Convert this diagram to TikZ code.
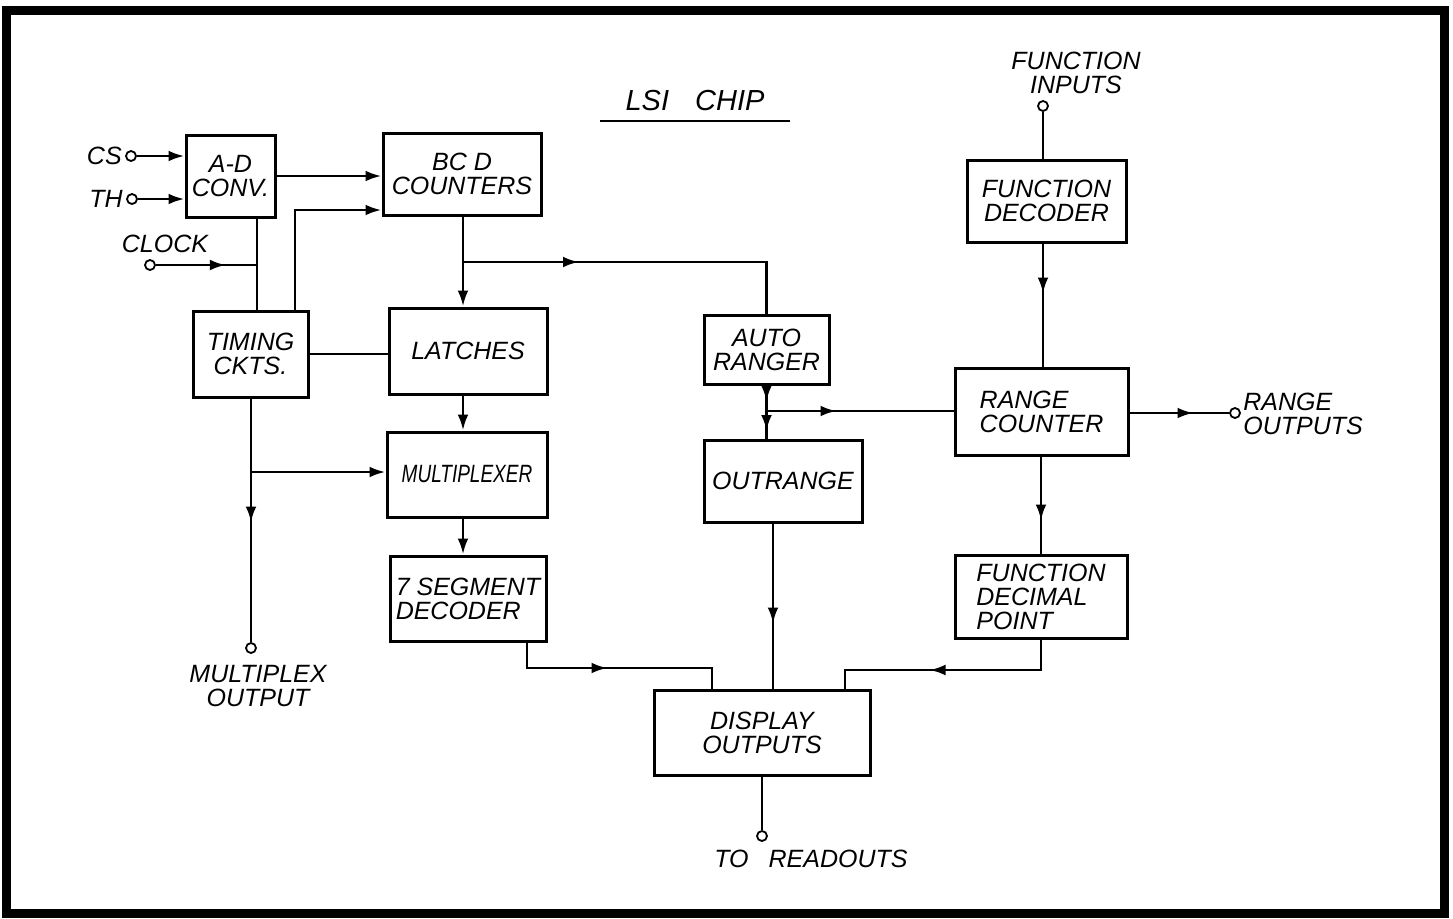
\documentclass[tikz,border=0pt]{standalone}
\usepackage{fontspec}
\setmainfont{Liberation Sans}
\usepackage{graphicx}
\usepackage{tikz}
\usetikzlibrary{arrows.meta,positioning,calc,decorations.markings}

\begin{document}
\begin{tikzpicture}[x=0.5pt, y=-0.5pt, line width=1.4pt,
    >={Latex[length=8pt, width=5.4pt]},
    blk/.style={draw, line width=1.5pt, inner sep=2pt, align=center,
      font=\itshape\fontsize{12.5}{12}\selectfont},
    lbl/.style={inner sep=1pt, align=center, font=\itshape\fontsize{12.5}{12}\selectfont},
    port/.style={draw, circle, line width=0.9pt, inner sep=0pt, minimum size=5pt},
    midtip/.style={postaction={decorate},
      decoration={markings, mark=at position #1 with {\arrow{>}}}}]
  \useasboundingbox (0,0) rectangle (1453,918);
  \draw[line width=4.5pt] (6,10) rectangle (1444,913);

  \node[lbl, font=\itshape\fontsize{14.5}{16}\selectfont, inner xsep=12pt, inner ysep=4.5pt, anchor=south] (title) at (695,121) {LSI\hspace{0.9em}CHIP};
  \draw (title.south west) -- (title.south east);

  \node[blk, minimum width=44.5pt, minimum height=41pt] (adc) at (230.5,176) {A-D\\CONV.};
  \node[blk, minimum width=79pt, minimum height=41pt] (bcd) at (462,174) {BC D\\COUNTERS};
  \node[blk, minimum width=57.5pt, minimum height=43pt] (tim) at (250.5,354) {TIMING\\CKTS.};
  \node[blk, minimum width=79pt, minimum height=43pt] (lat) at (468,351) {LATCHES};
  \node[blk, minimum width=80pt, minimum height=42.5pt] (mux) at (467,474.5) {\scalebox{0.76}[1]{MULTIPLEXER}};
  \node[blk, minimum width=78pt, minimum height=42.5pt, align=left] (seg) at (468,598.5) {7 SEGMENT\\DECODER};
  \node[blk, minimum width=62.5pt, minimum height=34.5pt] (auto) at (766.5,349.5) {AUTO\\RANGER};
  \node[blk, minimum width=79pt, minimum height=41pt] (outr) at (783,481) {OUTRANGE};
  \node[blk, minimum width=108pt, minimum height=42.5pt] (disp) at (762,732.5) {DISPLAY\\OUTPUTS};
  \node[blk, minimum width=79.5pt, minimum height=41pt] (fdec) at (1046.5,201) {FUNCTION\\DECODER};
  \node[blk, minimum width=86.5pt, minimum height=43.5pt, align=left] (rng) at (1041.5,411.5) {RANGE\\COUNTER};
  \node[blk, minimum width=86pt, minimum height=41.5pt, align=left] (fdp) at (1041,596.5) {FUNCTION\\DECIMAL\\POINT};

  \node[port] (csp) at (131,156) {};
  \node[lbl, anchor=east] (cstxt) at (csp.west) {CS};
  \node[port] (thp) at (132,199) {};
  \node[lbl, anchor=east] (thtxt) at (thp.west) {TH};
  \node[port] (clkp) at (150,265) {};
  \node[lbl] (clktxt) at (165,244) {CLOCK};
  \node[port] (mxp) at (251,648) {};
  \node[lbl] (mxtxt) at (258,686) {MULTIPLEX\\OUTPUT};
  \node[port] (rdp) at (762,836) {};
  \node[lbl] (rdtxt) at (811,859) {TO\hspace{0.8em}READOUTS};
  \node[port] (fip) at (1043,106) {};
  \node[lbl] (fitxt) at (1076,73) {FUNCTION\\INPUTS};
  \node[port] (rop) at (1235,413) {};
  \node[lbl, anchor=west, align=left] (rotxt) at (1240,414) {RANGE\\OUTPUTS};

  \coordinate (clkj) at (257,265);
  \coordinate (tup) at (295,210);
  \coordinate (bcdj) at (463,262);
  \coordinate (mxj) at (251,472);
  \coordinate (segj) at (527,668);
  \coordinate (dispa) at (712,668);
  \coordinate (fdpj) at (1041,670);
  \coordinate (dispb) at (845,670);
  \coordinate (autoj) at (auto.south |- 0,411);

  \draw[->] (csp) -- (csp -| adc.west);
  \draw[->] (thp) -- (thp -| adc.west);
  \draw[midtip=35pt] (clkp) -- (clkj);
  \draw (adc.south -| clkj) -- (tim.north -| clkj);
  \draw[->] (adc.east) -- (adc.east -| bcd.west);
  \draw[->] (tim.north -| tup) |- (bcd.west |- tup);
  \draw (tim.east) -- (tim.east -| lat.west);
  \draw[->] (bcd.south -| bcdj) -- (lat.north -| bcdj);
  \draw[midtip=58pt] (bcdj) -| (auto.north);
  \draw[->] (lat.south -| bcdj) -- (mux.north -| bcdj);
  \draw[->] (mux.south -| bcdj) -- (seg.north -| bcdj);
  \draw[midtip=62pt] (tim.south -| mxp) -- (mxp);
  \draw[->] (mxj) -- (mxj -| mux.west);
  \draw[midtip=53pt] (seg.south -| segj) -- (segj) -- (dispa) -- (dispa |- disp.north);
  \draw[midtip=50pt] (outr.south -| 773,0) -- (disp.north -| 773,0);
  \draw[midtip=71pt] (fdp.south -| fdpj) -- (fdpj) -- (dispb) -- (dispb |- disp.north);
  \draw (disp.south) -- (rdp);
  \draw[midtip=8pt] (auto.south) -- (autoj);
  \draw[midtip=10pt] (autoj) -- (autoj |- outr.north);
  \draw[midtip=35pt] (autoj) -- (autoj -| rng.west);
  \draw (fip) -- (fip |- fdec.north);
  \draw[midtip=25pt] (fdec.south -| fip) -- (rng.north -| fip);
  \draw[midtip=32pt] (rng.east |- rop) -- (rop);
  \draw[midtip=32pt] (rng.south -| fdpj) -- (fdp.north -| fdpj);
\end{tikzpicture}
\end{document}
